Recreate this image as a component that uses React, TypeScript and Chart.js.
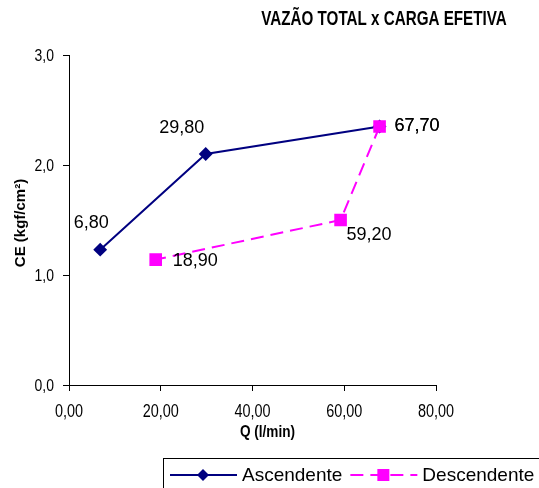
import React, { useEffect, useRef } from 'react';
import { Chart, registerables } from 'chart.js';
Chart.register(...registerables);

const ascQ = [6.8, 29.8, 67.7];
const ascCE = [1.23, 2.1, 2.35];
const descQ = [67.7, 59.2, 18.9];
const descCE = [2.35, 1.5, 1.14];
const xTicks = [0, 20, 40, 60, 80];
const yTicks = [0, 1, 2, 3];
const seriesNames = ['Ascendente', 'Descendente'];
const chartTitle = 'VAZÃO TOTAL x CARGA EFETIVA';
const xTitle = 'Q (l/min)';
const yTitle = 'CE (kgf/cm²)';

const ARIAL = "'Liberation Sans', Arial, sans-serif";
const NAVY = '#000080';
const MAGENTA = '#FF00FF';

const fmt = (v: number, d: number) => v.toFixed(d).replace('.', ',');

// label placement relative to each point (dataset index -> point index)
const labelPlacement = [
  [
    { dx: -9, dy: -27, align: 'center' },
    { dx: -24, dy: -26, align: 'center' },
    { dx: 15, dy: 0, align: 'left' },
  ],
  [
    { dx: 15, dy: 0, align: 'left' },
    { dx: 6, dy: 15, align: 'left' },
    { dx: 17, dy: 1, align: 'left' },
  ],
];

function narrowText(ctx: any, text: string, x: number, y: number, align: string, sx: number) {
  ctx.save();
  ctx.translate(x, y);
  ctx.scale(sx, 1);
  ctx.textAlign = align;
  ctx.fillText(text, 0, 0);
  ctx.restore();
}

const customPlugin = {
  id: 'customText',
  afterDatasetsDraw(chart: any) {
    const ctx = chart.ctx;
    const area = chart.chartArea;
    ctx.save();
    // data labels
    ctx.font = `18px ${ARIAL}`;
    ctx.fillStyle = '#000';
    ctx.textBaseline = 'middle';
    chart.data.datasets.forEach((ds: any, di: number) => {
      const meta = chart.getDatasetMeta(di);
      meta.data.forEach((pt: any, i: number) => {
        const p = labelPlacement[di][i];
        ctx.textAlign = p.align;
        ctx.fillText(fmt(ds.data[i].x, 2), pt.x + p.dx, pt.y + p.dy);
      });
    });

    // tick labels (narrow)
    const xs = chart.scales.x;
    const ys = chart.scales.y;
    ctx.font = `18.5px ${ARIAL}`;
    xs.ticks.forEach((t: any) => {
      narrowText(ctx, fmt(t.value, 2), xs.getPixelForValue(t.value), area.bottom + 27, 'center', 0.78);
    });
    ctx.font = `17px ${ARIAL}`;
    ys.ticks.forEach((t: any) => {
      narrowText(ctx, fmt(t.value, 1), area.left - 15, ys.getPixelForValue(t.value) + 1, 'right', 0.82);
    });

    // axis titles
    ctx.font = `bold 17px ${ARIAL}`;
    narrowText(ctx, xTitle, (area.left + area.right) / 2 + 15, area.bottom + 47, 'center', 0.8);
    ctx.save();
    ctx.font = `bold 15px ${ARIAL}`;
    ctx.translate(21, (area.top + area.bottom) / 2 + 3);
    ctx.rotate(-Math.PI / 2);
    ctx.textAlign = 'center';
    ctx.fillText(yTitle, 0, 0);
    ctx.restore();

    // title
    ctx.font = `bold 20px ${ARIAL}`;
    narrowText(ctx, chartTitle, area.right - 52, 19, 'center', 0.76);

    // legend
    const top = chart.height - 30;
    const left = area.left + 94;
    ctx.strokeStyle = '#000';
    ctx.lineWidth = 1;
    ctx.setLineDash([]);
    ctx.strokeRect(left + 0.5, top + 0.5, chart.width, 60);
    const cy = top + 17;
    ctx.font = `19px ${ARIAL}`;
    ctx.textAlign = 'left';
    let x = left + 7;
    chart.data.datasets.forEach((ds: any) => {
      ctx.strokeStyle = ds.borderColor;
      ctx.lineWidth = 2;
      ctx.setLineDash(ds.borderDash || []);
      ctx.beginPath();
      ctx.moveTo(x, cy);
      ctx.lineTo(x + 67, cy);
      ctx.stroke();
      ctx.setLineDash([]);
      ctx.fillStyle = ds.pointBackgroundColor;
      const mx = x + 33;
      ctx.beginPath();
      if (ds.pointStyle === 'rectRot') {
        const r = 6;
        ctx.moveTo(mx, cy - r);
        ctx.lineTo(mx + r, cy);
        ctx.lineTo(mx, cy + r);
        ctx.lineTo(mx - r, cy);
        ctx.closePath();
      } else {
        ctx.rect(mx - 6, cy - 6, 12, 12);
      }
      ctx.fill();
      ctx.fillStyle = '#000';
      ctx.fillText(ds.label, x + 72, cy + 1);
      x += 72 + ctx.measureText(ds.label).width + 8;
    });
    ctx.restore();
  },
};

export default function App() {
  const ref = useRef<HTMLCanvasElement>(null);
  useEffect(() => {
    if (!ref.current) return;
    const chart = new Chart(ref.current, {
      type: 'line',
      data: {
        datasets: [
          {
            label: seriesNames[0],
            data: ascQ.map((q, i) => ({ x: q, y: ascCE[i] })),
            borderColor: NAVY,
            backgroundColor: NAVY,
            pointBackgroundColor: NAVY,
            pointBorderColor: NAVY,
            pointStyle: 'rectRot',
            pointRadius: 5.5,
            borderWidth: 2,
            order: 1,
          },
          {
            label: seriesNames[1],
            data: descQ.map((q, i) => ({ x: q, y: descCE[i] })),
            borderColor: MAGENTA,
            backgroundColor: MAGENTA,
            pointBackgroundColor: MAGENTA,
            pointBorderColor: MAGENTA,
            pointStyle: 'rect',
            pointRadius: 7.5,
            borderWidth: 2,
            borderDash: [13, 7],
            order: 0,
          },
        ] as any,
      },
      options: {
        animation: false,
        responsive: false,
        devicePixelRatio: 1,
        layout: { padding: { left: 0, top: 55, right: 103, bottom: 43 } },
        plugins: {
          legend: { display: false },
          title: { display: false },
          tooltip: { enabled: false },
        },
        scales: {
          x: {
            type: 'linear',
            min: 0,
            max: 80,
            afterBuildTicks: (s: any) => {
              s.ticks = xTicks.map((v) => ({ value: v }));
            },
            afterFit: (s: any) => {
              s.height = 60;
            },
            ticks: { display: false },
            grid: {
              display: true,
              drawOnChartArea: false,
              drawTicks: true,
              tickLength: 6,
              tickColor: '#000',
            },
            border: { display: true, color: '#000', width: 1 },
          },
          y: {
            type: 'linear',
            min: 0,
            max: 3,
            afterBuildTicks: (s: any) => {
              s.ticks = yTicks.map((v) => ({ value: v }));
            },
            afterFit: (s: any) => {
              s.width = 69;
            },
            ticks: { display: false },
            grid: {
              display: true,
              drawOnChartArea: false,
              drawTicks: true,
              tickLength: 6,
              tickColor: '#000',
            },
            border: { display: true, color: '#000', width: 1 },
          },
        },
      } as any,
      plugins: [customPlugin],
    });
    return () => chart.destroy();
  }, []);
  return (
    <div style={{ position: 'fixed', left: 0, top: 0, width: 539, height: 488, background: '#fff' }}>
      <canvas ref={ref} width={539} height={488} />
    </div>
  );
}
